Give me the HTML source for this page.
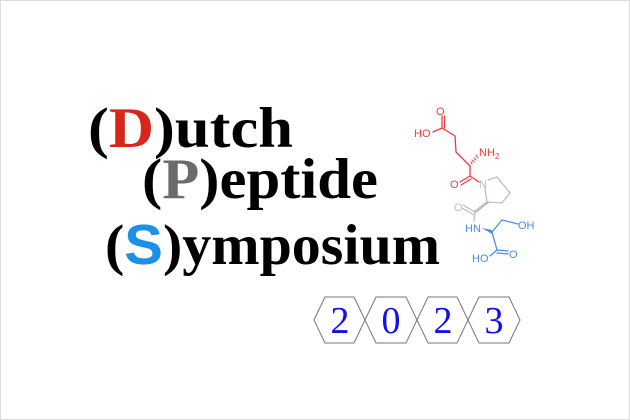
<!DOCTYPE html>
<html><head><meta charset="utf-8"><style>
html,body{margin:0;padding:0;background:#fff;}
svg{display:block;}
</style></head><body>
<svg width="630" height="420" viewBox="0 0 630 420" xmlns="http://www.w3.org/2000/svg">
<rect x="0.5" y="0.5" width="629" height="419" fill="#fff" stroke="#ddd" stroke-width="1"/>
<g font-family="'Liberation Serif',serif" font-weight="bold" font-size="57" fill="#000">
<text x="88" y="147" textLength="205" lengthAdjust="spacingAndGlyphs">(<tspan fill="#d9261c">D</tspan>)utch</text>
<text x="142" y="198" textLength="236" lengthAdjust="spacingAndGlyphs">(<tspan fill="#6b6b6b">P</tspan>)eptide</text>
<text x="105" y="264" textLength="335" lengthAdjust="spacingAndGlyphs">(<tspan fill="#1e8fe8" font-family="'Liberation Sans',sans-serif">S</tspan>)ymposium</text>
</g>
<!-- molecule -->
<g stroke-width="1.3" fill="none" stroke-linecap="round">
<g stroke="#ee3b3b">
<line x1="442" y1="128" x2="442" y2="116"/><line x1="444.5" y1="128" x2="444.5" y2="116"/>
<line x1="442" y1="128" x2="433" y2="132"/>
<line x1="442" y1="128" x2="455" y2="136"/>
<line x1="455" y1="136" x2="456" y2="152"/>
<line x1="456" y1="152" x2="470" y2="166"/>
<line x1="470" y1="166" x2="470" y2="176"/>
<line x1="470" y1="176" x2="460" y2="182"/><line x1="471" y1="179" x2="461" y2="185"/>
<line x1="470" y1="176" x2="479" y2="182"/>
</g>
<g stroke="#ee3b3b" stroke-width="1">
<line x1="472" y1="164" x2="471" y2="162"/><line x1="474" y1="162" x2="472" y2="160"/><line x1="476" y1="160" x2="474" y2="158"/><line x1="478" y1="158" x2="476" y2="155"/>
</g>
<g stroke="#b8c2be">
<line x1="488" y1="180" x2="497" y2="177"/>
<line x1="497" y1="177" x2="510" y2="193"/>
<line x1="510" y1="193" x2="502" y2="203"/>
<line x1="502" y1="203" x2="487" y2="202"/>
<line x1="487" y1="202" x2="485" y2="188"/>
<line x1="475" y1="212" x2="463" y2="205"/><line x1="474" y1="215" x2="462" y2="208"/>
<line x1="475" y1="212" x2="474" y2="221"/>
</g>
<polygon points="487,201 489,203 476,213 474,211" fill="#b8c2be" stroke="none"/>
<g stroke="#4a8ee8">
<line x1="492" y1="232" x2="502" y2="220"/>
<line x1="502" y1="220" x2="518" y2="224"/>
<line x1="492" y1="232" x2="497" y2="250"/>
<line x1="497" y1="250" x2="508" y2="251"/><line x1="497" y1="253" x2="508" y2="254"/>
<line x1="497" y1="250" x2="490" y2="256"/>
</g>
<polygon points="482,228 492,230 492,234" fill="#4a8ee8" stroke="none"/>
</g>
<g font-family="'Liberation Sans',sans-serif" font-size="11">
<text x="436" y="115" fill="#ee3b3b">O</text>
<text x="414" y="137" fill="#ee3b3b">HO</text>
<text x="479" y="156" fill="#ee3b3b">NH<tspan font-size="8" dy="3">2</tspan></text>
<text x="450" y="188" fill="#ee3b3b">O</text>
<text x="479" y="188" fill="#b8c2be">N</text>
<text x="454" y="211" fill="#b8c2be">O</text>
<text x="465" y="232" fill="#4a8ee8">HN</text>
<text x="518" y="229" fill="#4a8ee8">OH</text>
<text x="509" y="258" fill="#4a8ee8">O</text>
<text x="472" y="262" fill="#4a8ee8">HO</text>
</g>
<!-- hexagons -->
<g fill="#fff" stroke="#777" stroke-width="1">
<polygon points="314,320 325,297 354,297 365,320 354,343 325,343"/>
<polygon points="365,320 376,297 406,297 417,320 406,343 376,343"/>
<polygon points="417,320 428,297 457,297 468,320 457,343 428,343"/>
<polygon points="468,320 479,297 509,297 520,320 509,343 479,343"/>
</g>
<g font-family="'Liberation Serif',serif" font-size="38" fill="#1010ee" text-anchor="middle">
<text x="340" y="333">2</text>
<text x="391" y="333">0</text>
<text x="443" y="333">2</text>
<text x="494" y="333">3</text>
</g>
</svg>
</body></html>
